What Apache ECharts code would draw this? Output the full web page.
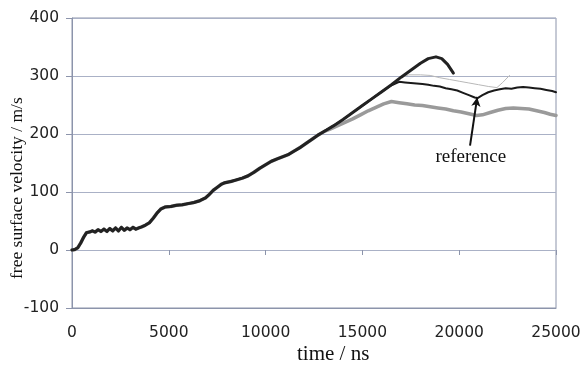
<!DOCTYPE html>
<html>
<head>
<meta charset="utf-8">
<script src="https://cdn.jsdelivr.net/npm/echarts@6/dist/echarts.min.js"></script>
<style>html,body{margin:0;padding:0;background:#fff}#c{width:584px;height:365px}</style>
</head>
<body>
<div id="c"></div>
<script>
// time (ns), velocity (m/s)
var sharedEarly = [[0,0],[150,1],[300,4],[450,12],[600,22],[750,30],[900,31],[1050,33],[1200,31],[1350,35],[1500,32],[1650,36],[1800,32],[1950,37],[2100,33],[2250,38],[2400,33],[2550,39],[2700,34],[2850,38],[3000,35],[3150,39],[3300,36],[3450,38],[3600,40],[3800,43],[4000,47],[4200,55],[4400,64],[4600,71],[4800,74],[5100,75],[5400,77],[5700,78],[6000,80],[6300,82],[6600,85],[6900,90],[7100,96],[7300,103],[7500,108],[7700,113],[7900,116],[8200,118],[8500,121],[8800,124],[9100,128],[9400,134],[9700,141],[10000,147],[10300,153],[10600,157],[10900,161],[11200,165],[11500,171],[11800,177],[12100,184],[12400,191],[12700,198],[13000,204]];
var thickBlackTail = [[13500,214],[14000,225],[14500,237],[15000,249],[15500,261],[16000,273],[16500,285],[17000,298],[17500,310],[18000,322],[18400,330],[18800,333],[19100,330],[19400,320],[19700,305]];
var thinBlackTail = [[13500,214],[14000,225],[14500,237],[15000,249],[15500,261],[16000,273],[16500,284],[16900,290],[17200,289],[17500,288],[17800,287],[18100,286],[18400,285],[18700,283],[19000,282],[19300,279],[19600,277],[19900,275],[20200,271],[20500,267],[20800,263],[20950,262],[21200,267],[21500,272],[21800,275],[22100,277],[22400,279],[22700,278],[23000,280],[23300,281],[23600,280],[23900,279],[24200,278],[24500,276],[24800,274],[25000,272]];
var grayThickTail = [[13300,208],[13700,214],[14100,220],[14500,226],[14900,233],[15300,240],[15700,246],[16100,252],[16500,256],[16900,254],[17300,252],[17700,250],[18100,249],[18500,247],[18900,245],[19300,243],[19700,240],[20100,238],[20500,235],[20900,232],[21200,233],[21600,237],[22000,241],[22400,244],[22800,245],[23200,244],[23600,243],[24000,240],[24400,237],[24700,234],[25000,232]];
var lightGrayThin = [[16900,296],[17400,302],[18000,302],[18500,301],[19000,297],[19500,294],[20000,291],[20500,288],[21000,285],[21500,282],[21950,280],[22250,289],[22600,301]];
var annotationText = 'reference';
var xTicks = [0, 5000, 10000, 15000, 20000, 25000];
var yTicks = [-100, 0, 100, 200, 300, 400];

var chart = echarts.init(document.getElementById('c'), null, {renderer:'canvas'});
var gridCol = '#aab1c6';
var axisCol = '#8c94ab';
var lblStyle = {color:'#222', fontFamily:'DejaVu Sans', fontSize:15.5, formatter:function(v){return String(v);}};
var mk = function(name, data, color, width, z){
  return {name:name, type:'line', xAxisIndex:0, yAxisIndex:0, data:data, showSymbol:false, symbol:'none', z:z,
    lineStyle:{color:color, width:width, join:'round', cap:'round'}, animation:false};
};
chart.setOption({
  animation:false,
  grid:{left:72, right:28, top:18, bottom:57, show:true, borderColor:axisCol, borderWidth:1, backgroundColor:'transparent'},
  xAxis:[
    {type:'value', min:xTicks[0], max:xTicks[xTicks.length-1], interval:5000, position:'bottom',
     axisLine:{show:true, onZero:false, lineStyle:{color:axisCol}}, axisTick:{show:false}, splitLine:{show:false},
     axisLabel:Object.assign({margin:17}, lblStyle)},
    {type:'value', min:xTicks[0], max:xTicks[xTicks.length-1], interval:5000, position:'bottom',
     axisLine:{show:true, onZero:true, lineStyle:{color:gridCol}}, axisTick:{show:true, inside:false, length:5, lineStyle:{color:axisCol}},
     splitLine:{show:false}, axisLabel:{show:false}}
  ],
  yAxis:{type:'value', min:yTicks[0], max:yTicks[yTicks.length-1], interval:100,
    axisLine:{show:true, lineStyle:{color:axisCol}}, axisTick:{show:true, length:6, lineStyle:{color:axisCol}},
    splitLine:{show:true, lineStyle:{color:gridCol, width:1}},
    axisLabel:Object.assign({margin:13}, lblStyle)},
  series:[
    mk('lightgray', lightGrayThin, '#b8b8b8', 1, 1),
    mk('gray', sharedEarly.concat(grayThickTail), '#9a9a9a', 3.5, 2),
    mk('thinblack', sharedEarly.concat(thinBlackTail), '#1a1a1a', 2, 3),
    Object.assign(mk('thickblack', sharedEarly.concat(thickBlackTail), '#222', 3, 4), {
      markLine:{silent:true, symbol:['none','arrow'], symbolSize:[7,9], animation:false,
        lineStyle:{color:'#111', width:2, type:'solid'}, label:{show:false},
        data:[[{coord:[20560,180]},{coord:[20930,263]}]]},
      markPoint:{silent:true, symbol:'circle', symbolSize:0, animation:false,
        label:{show:true, formatter:annotationText, color:'#111', fontFamily:'Liberation Serif', fontSize:19, position:'inside'},
        data:[{coord:[20600,160]}]}
    })
  ],
  graphic:[
    {type:'text', left:297, top:344, style:{text:'time / ns', fill:'#111', font:'21px "Liberation Serif"'}},
    {type:'text', x:8, y:279, rotation:Math.PI/2, style:{text:'free surface velocity / m/s', fill:'#111', font:'17.5px "Liberation Serif"'}}
  ]
});
</script>
</body>
</html>
